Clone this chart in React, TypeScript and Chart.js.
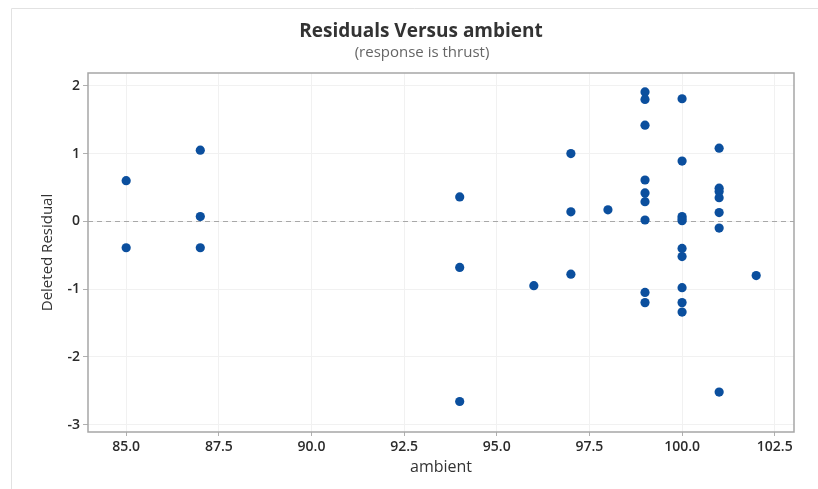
import React, { useEffect, useRef } from "react";
import { Chart, registerables } from "chart.js";

Chart.register(...registerables);

const ambientValues = [
  85, 85,
  87, 87, 87,
  94, 94, 94,
  96,
  97, 97, 97,
  98,
  99, 99, 99, 99, 99, 99, 99, 99, 99,
  100, 100, 100, 100, 100, 100, 100, 100, 100, 100,
  101, 101, 101, 101, 101, 101, 101,
  102,
];
const residualValues = [
  0.60, -0.39,
  1.05, 0.07, -0.39,
  0.36, -0.68, -2.66,
  -0.95,
  1.00, 0.14, -0.78,
  0.17,
  1.91, 1.80, 1.42, 0.61, 0.42, 0.29, 0.02, -1.05, -1.20,
  1.81, 0.89, 0.07, 0.04, 0.01, -0.40, -0.52, -0.98, -1.20, -1.34,
  1.08, 0.49, 0.44, 0.35, 0.13, -0.10, -2.52,
  -0.80,
];
const xTickValues = [85, 87.5, 90, 92.5, 95, 97.5, 100, 102.5];
const yTickValues = [-3, -2, -1, 0, 1, 2];

const titleText = "Residuals Versus ambient";
const subtitleText = "(response is thrust)";
const xTitle = "ambient";
const yTitle = "Deleted Residual";

const FONT = "'Open Sans', 'Noto Sans', sans-serif";

const decorPlugin = {
  id: "decor",
  beforeDraw(chart: any) {
    const { ctx, width, height } = chart;
    ctx.save();
    ctx.fillStyle = "#ffffff";
    ctx.fillRect(0, 0, width, height);
    ctx.strokeStyle = "#e2e2e2";
    ctx.lineWidth = 1;
    ctx.beginPath();
    ctx.moveTo(11.5, height);
    ctx.lineTo(11.5, 8.5);
    ctx.lineTo(width, 8.5);
    ctx.stroke();
    ctx.restore();
  },
  beforeDatasetsDraw(chart: any) {
    const { ctx, chartArea, scales } = chart;
    const y0 = scales.y.getPixelForValue(0);
    ctx.save();
    ctx.strokeStyle = "#a8a8a8";
    ctx.lineWidth = 1;
    ctx.setLineDash([5, 4]);
    ctx.beginPath();
    ctx.moveTo(chartArea.left, Math.round(y0) + 0.5);
    ctx.lineTo(chartArea.right, Math.round(y0) + 0.5);
    ctx.stroke();
    ctx.restore();
  },
  afterDraw(chart: any) {
    const { ctx, chartArea } = chart;
    ctx.save();
    ctx.strokeStyle = "#a6a6a6";
    ctx.lineWidth = 1.5;
    ctx.strokeRect(chartArea.left, chartArea.top, chartArea.right - chartArea.left, chartArea.bottom - chartArea.top);

    ctx.fillStyle = "#333333";
    ctx.textAlign = "center";
    ctx.textBaseline = "middle";
    ctx.font = `bold 19px ${FONT}`;
    ctx.fillText(titleText, 421, 32);
    ctx.fillStyle = "#666666";
    ctx.font = `15px ${FONT}`;
    ctx.fillText(subtitleText, 422, 53);

    ctx.fillStyle = "#333333";
    ctx.font = `16px ${FONT}`;
    ctx.fillText(xTitle, (chartArea.left + chartArea.right) / 2, 467);
    ctx.font = `15px ${FONT}`;
    ctx.translate(48, (chartArea.top + chartArea.bottom) / 2);
    ctx.rotate(-Math.PI / 2);
    ctx.fillText(yTitle, 0, 0);
    ctx.restore();
  },
};

export default function App() {
  const canvasRef = useRef<HTMLCanvasElement | null>(null);

  useEffect(() => {
    const canvas = canvasRef.current;
    if (!canvas) return;
    const points = ambientValues.map((a, i) => ({ x: a, y: residualValues[i] }));
    const chart = new Chart(canvas, {
      type: "scatter",
      data: {
        datasets: [
          {
            data: points,
            backgroundColor: "#0b4f9e",
            borderColor: "#0b4f9e",
            pointRadius: 4.6,
            pointHoverRadius: 4.6,
            borderWidth: 0,
          },
        ],
      },
      options: {
        animation: false,
        responsive: true,
        maintainAspectRatio: false,
        layout: { padding: { top: 73, right: 24, left: 0, bottom: 0 } },
        plugins: {
          legend: { display: false },
          title: { display: false },
          tooltip: { enabled: false },
        },
        scales: {
          x: {
            type: "linear",
            min: 83.97,
            max: 103.02,
            afterFit: (s: any) => {
              s.height = 57;
            },
            afterBuildTicks: (s: any) => {
              s.ticks = xTickValues.map((v) => ({ value: v }));
            },
            border: { display: false },
            grid: {
              color: "#f1f1f1",
              tickColor: "#b0b0b0",
              tickLength: 4,
              drawTicks: true,
            },
            ticks: {
              color: "#2b2b2b",
              font: { family: FONT, size: 14, weight: "600" },
              padding: 3,
              maxRotation: 0,
              callback: (v: any) => Number(v).toFixed(1),
            },
          },
          y: {
            type: "linear",
            min: -3.11,
            max: 2.19,
            afterFit: (s: any) => {
              s.width = 88;
            },
            afterBuildTicks: (s: any) => {
              s.ticks = yTickValues.map((v) => ({ value: v }));
            },
            border: { display: false },
            grid: {
              color: "#f1f1f1",
              tickColor: "#b0b0b0",
              tickLength: 5,
              drawTicks: true,
            },
            ticks: {
              color: "#2b2b2b",
              font: { family: FONT, size: 14, weight: "600" },
              padding: 3,
              callback: (v: any) => String(v),
            },
          },
        },
      },
      plugins: [decorPlugin],
    });
    return () => chart.destroy();
  }, []);

  return (
    <div style={{ position: "absolute", left: 0, top: 0, width: 818, height: 489 }}>
      <canvas ref={canvasRef} />
    </div>
  );
}
